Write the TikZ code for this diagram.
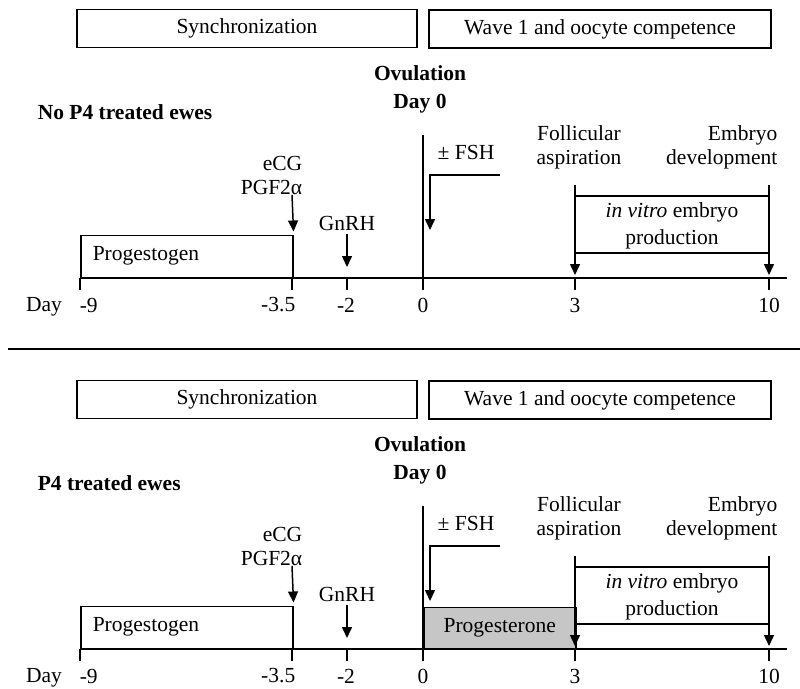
\documentclass[tikz,border=0pt]{standalone}
\usepackage{fontspec}
\setmainfont{Liberation Serif}
\usetikzlibrary{arrows.meta}
\begin{document}
\begin{tikzpicture}[x=1pt,y=-1pt,line join=miter,line width=1.5pt,>={Triangle[length=11pt,width=10pt]},
	every node/.style={font=\fontsize{21.5}{24}\selectfont,inner sep=0pt},
	phase/.style={draw,minimum height=38pt},
	bar/.style={draw,anchor=south west,minimum height=42pt},
	hd/.style={font=\fontsize{21.5}{24}\selectfont\bfseries}]
\useasboundingbox (0,0) rectangle (800,688);
% no P4 treated ewes
\node[phase,minimum width=340pt] (syncA) at (247,28.5) {Synchronization};
\node[phase,minimum width=342pt] (waveA) at (600,29) {Wave 1 and oocyte competence};
\node[hd,anchor=west] (grpA) at (37,112) {No P4 treated ewes};
\node[hd,align=center] (ovA) at (420,89) {Ovulation\\[4pt]Day 0};
\coordinate (mA) at (80,278);
\coordinate (hA) at (292,278);
\coordinate (gA) at (347,278);
\coordinate (oA) at (423,278);
\coordinate (fA) at (575,278);
\coordinate (tA) at (769,278);
\coordinate (endA) at (787,278);
\node[bar,minimum width=212pt,text width=188pt,inner xsep=12pt,align=left] (progA) at (mA) {Progestogen};
\draw (mA) -- (endA);
\draw (mA) -- ++(0,12) (hA) -- ++(0,12) (gA) -- ++(0,12) (oA) -- ++(0,12) (fA) -- ++(0,12) (tA) -- ++(0,12);
\node (dayA) at (44,307) {Day};
\node[anchor=west] (lmA) at (79,305) {-9};
\node[anchor=east] (lhA) at (296,305) {-3.5};
\node (lgA) at (346,305) {-2};
\node (loA) at (423,305) {0};
\node (lfA) at (575,305) {3};
\node (ltA) at (769,305) {10};
\coordinate (ovlA) at (423,135);
\draw (ovlA) -- (oA);
\node[align=right,anchor=east] (ecgA) at (303,175) {eCG\\PGF2α};
\draw[->] (ecgA.south -| hA) -- ([yshift=3pt]progA.north east);
\node (gnA) at (347,223) {GnRH};
\draw[->] ([yshift=-3pt]gnA.south) -- ([yshift=11pt]gA);
\node (fshA) at (466,152) {± FSH};
\coordinate (fkA) at (500,175);
\coordinate (fsA) at (430,230);
\draw[->] (fkA) -| (fsA);
\node[align=center] (folA) at (579,147) {Follicular\\aspiration};
\node[align=right,anchor=east] (embA) at (778,147) {Embryo\\development};
\coordinate (ivlA) at (575,185);
\coordinate (ivrA) at (769,185);
\draw[->] (ivlA) -- ([yshift=3pt]fA);
\draw[->] (ivrA) -- ([yshift=3pt]tA);
\draw ([yshift=-11pt]ivlA) -- ([yshift=-11pt]ivrA) ([yshift=-68pt]ivlA) -- ([yshift=-68pt]ivrA);
\node[align=center] (ivpA) at (672,226) {\textit{in vitro} embryo\\[3pt]production};
% separator
\draw[line width=2pt] (8,349) -- (800,349);
% P4 treated ewes
\begin{scope}[yshift=-371pt]
\node[phase,minimum width=340pt] (syncB) at (247,28.5) {Synchronization};
\node[phase,minimum width=342pt] (waveB) at (600,29) {Wave 1 and oocyte competence};
\node[hd,anchor=west] (grpB) at (37,112) {P4 treated ewes};
\node[hd,align=center] (ovB) at (420,89) {Ovulation\\[4pt]Day 0};
\coordinate (mB) at (80,278);
\coordinate (hB) at (292,278);
\coordinate (gB) at (347,278);
\coordinate (oB) at (423,278);
\coordinate (fB) at (575,278);
\coordinate (tB) at (769,278);
\coordinate (endB) at (787,278);
\node[bar,minimum width=212pt,text width=188pt,inner xsep=12pt,align=left] (progB) at (mB) {Progestogen};
\node[bar,fill=gray!45,minimum width=152pt,minimum height=41pt] (p4B) at (oB) {Progesterone};
\draw (mB) -- (endB);
\draw (mB) -- ++(0,12) (hB) -- ++(0,12) (gB) -- ++(0,12) (oB) -- ++(0,12) (fB) -- ++(0,12) (tB) -- ++(0,12);
\node (dayB) at (44,307) {Day};
\node[anchor=west] (lmB) at (79,305) {-9};
\node[anchor=east] (lhB) at (296,305) {-3.5};
\node (lgB) at (346,305) {-2};
\node (loB) at (423,305) {0};
\node (lfB) at (575,305) {3};
\node (ltB) at (769,305) {10};
\coordinate (ovlB) at (423,135);
\draw (ovlB) -- (oB);
\node[align=right,anchor=east] (ecgB) at (303,175) {eCG\\PGF2α};
\draw[->] (ecgB.south -| hB) -- ([yshift=3pt]progB.north east);
\node (gnB) at (347,223) {GnRH};
\draw[->] ([yshift=-3pt]gnB.south) -- ([yshift=11pt]gB);
\node (fshB) at (466,152) {± FSH};
\coordinate (fkB) at (500,175);
\coordinate (fsB) at (430,230);
\draw[->] (fkB) -| (fsB);
\node[align=center] (folB) at (579,147) {Follicular\\aspiration};
\node[align=right,anchor=east] (embB) at (778,147) {Embryo\\development};
\coordinate (ivlB) at (575,185);
\coordinate (ivrB) at (769,185);
\draw[->] (ivlB) -- ([yshift=3pt]fB);
\draw[->] (ivrB) -- ([yshift=3pt]tB);
\draw ([yshift=-11pt]ivlB) -- ([yshift=-11pt]ivrB) ([yshift=-68pt]ivlB) -- ([yshift=-68pt]ivrB);
\node[align=center] (ivpB) at (672,226) {\textit{in vitro} embryo\\[3pt]production};
\end{scope}
\end{tikzpicture}
\end{document}
